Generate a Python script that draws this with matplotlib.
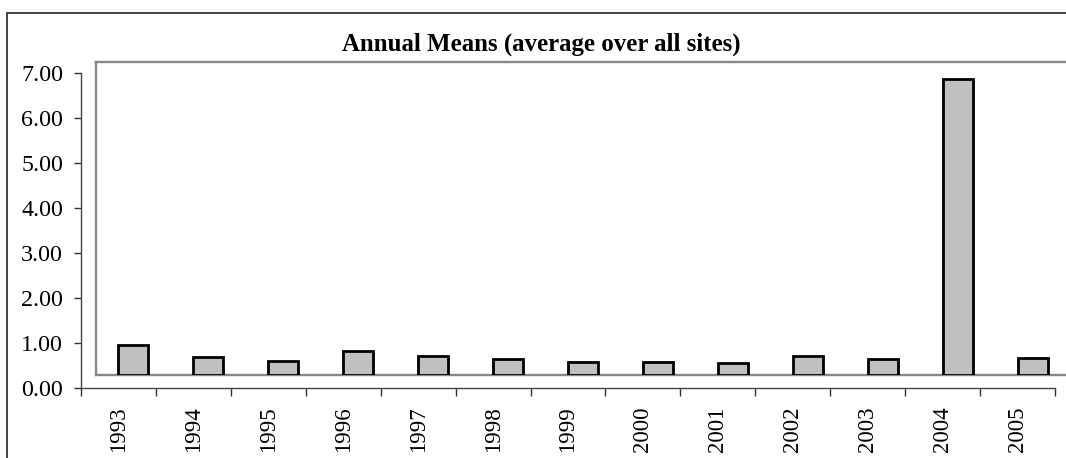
"""Annual means bar chart, Excel-style with offset plot area."""

import matplotlib

matplotlib.use("Agg")
import matplotlib.pyplot as plt
from matplotlib.patches import Rectangle
from matplotlib.ticker import FixedLocator, FormatStrFormatter

YEARS = ["1993", "1994", "1995", "1996", "1997", "1998", "1999",
         "2000", "2001", "2002", "2003", "2004", "2005"]
ANNUAL_MEANS = [0.66, 0.39, 0.31, 0.53, 0.42, 0.35, 0.30,
                0.30, 0.27, 0.42, 0.36, 6.57, 0.38]
Y_TICKS = [0, 1, 2, 3, 4, 5, 6, 7]
TITLE = "Annual Means (average over all sites)"

W, H = 1066, 458
PX_PER_UNIT = 45.0

plt.rcParams["font.family"] = ["Liberation Serif", "DejaVu Serif"]


def fx(px):
    return px / W


def fy(px):
    return 1 - px / H


fig = plt.figure(figsize=(W / 100, H / 100), dpi=100)
fig.patch.set_facecolor("white")

# outer chart border (cut off at right and bottom)
fig.patches.append(Rectangle((fx(7), fy(470)), fx(1080) - fx(7), fy(13) - fy(470),
                             transform=fig.transFigure, fill=False,
                             edgecolor="#333333", linewidth=1.3))

# axis frame: ticks, labels
ax_left, ax_right, ax_top, ax_bottom = 81, 1055, 73, 388
ax = fig.add_axes([fx(ax_left), fy(ax_bottom), fx(ax_right - ax_left),
                   (ax_bottom - ax_top) / H])
ax.set_facecolor("none")
n = len(YEARS)
ax.set_xlim(-0.5, n - 0.5)
ax.set_ylim(0, 7)
for side in ["top", "right"]:
    ax.spines[side].set_visible(False)
for side in ["left", "bottom"]:
    ax.spines[side].set_color("#444444")
    ax.spines[side].set_linewidth(1.0)
ax.set_yticks(Y_TICKS)
ax.yaxis.set_major_formatter(FormatStrFormatter("%.2f"))
ax.tick_params(axis="y", length=5, width=1.0, color="#333333", pad=8,
               labelsize=17.3)
ax.set_xticks(range(n))
ax.set_xticklabels(YEARS, rotation=90, fontsize=16.5, va="top", ha="center")
ax.xaxis.set_minor_locator(FixedLocator([i - 0.5 for i in range(n + 1)]))
ax.tick_params(axis="x", which="major", length=0, pad=13.5)
ax.tick_params(axis="x", which="minor", length=6, width=1.0, color="#333333")

# plot area, shifted right/up as in the source
pl_left, pl_top, pl_bottom = ax_left + 15, 62, 375
plot_h = pl_bottom - pl_top
axp = fig.add_axes([fx(pl_left), fy(pl_bottom), fx(ax_right - ax_left),
                    plot_h / H])
axp.set_facecolor("none")
axp.set_xlim(-0.5, n - 0.5)
axp.set_ylim(0, plot_h / PX_PER_UNIT)
axp.set_xticks([])
axp.set_yticks([])
for sp in axp.spines.values():
    sp.set_color("#878787")
    sp.set_linewidth(1.7)
axp.bar(range(n), ANNUAL_MEANS, width=0.4, color="#c0c0c0",
        edgecolor="black", linewidth=2.0, zorder=3)

fig.text(fx(541), fy(51), TITLE, ha="center", va="baseline",
         fontsize=17.9, fontweight="bold")

fig.savefig("out.png", dpi=100)
